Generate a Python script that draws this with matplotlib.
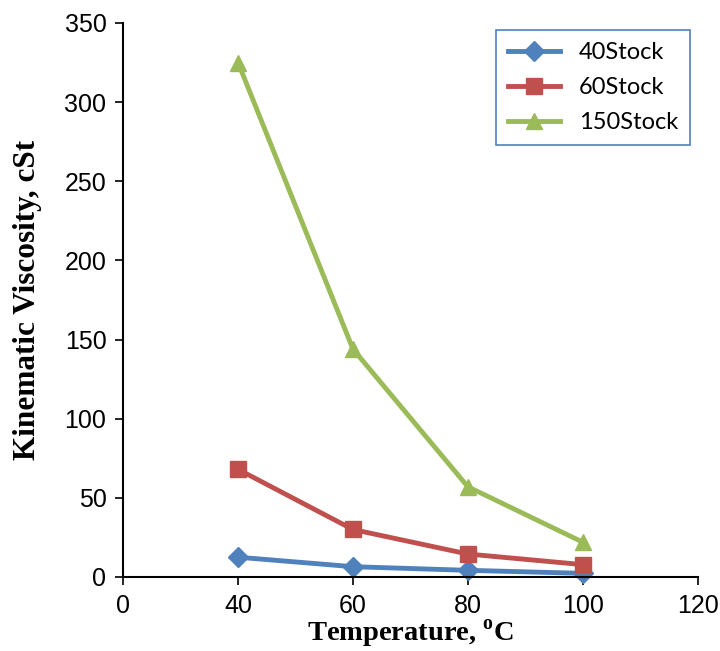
import matplotlib
matplotlib.use('Agg')
import matplotlib.pyplot as plt
import numpy as np

# category axis (Excel-style line chart, equally spaced labels)
tick_labels = ['0', '40', '60', '80', '100', '120']
temps = ['40', '60', '80', '100']

stock40 = [12.5, 6.5, 4.2, 2.3]
stock60 = [68, 30, 14.5, 7.8]
stock150 = [325, 144, 57, 22]

series = [
    ('40Stock', stock40, '#4F81BD', 'D', 10),
    ('60Stock', stock60, '#C0504D', 's', 11),
    ('150Stock', stock150, '#9BBB59', '^', 12),
]

fig = plt.figure(figsize=(7.2, 6.51), dpi=100)
ax = fig.add_axes([0.171, 0.1137, 0.798, 0.851])

pos = [tick_labels.index(t) for t in temps]
for name, vals, col, mk, ms in series:
    ax.plot(pos, vals, color=col, lw=3.5, marker=mk, ms=ms,
            markeredgecolor=col, label=name, clip_on=False)

ax.set_xlim(0, len(tick_labels) - 1)
ax.set_ylim(0, 350)
ax.set_xticks(range(len(tick_labels)))
ax.set_xticklabels(tick_labels)
ax.set_yticks(np.arange(0, 351, 50))

ax.tick_params(direction='out', length=6, width=1.2, colors='black',
               labelsize=18, labelfontfamily='Liberation Sans')
ax.tick_params(axis='x', pad=6)
ax.tick_params(axis='y', pad=6)

ax.spines['top'].set_visible(False)
ax.spines['right'].set_visible(False)
ax.spines['left'].set_linewidth(1.5)
ax.spines['bottom'].set_linewidth(1.5)

ax.set_xlabel('Temperature, $^{\\mathregular{o}}$C', fontfamily='Liberation Serif',
              fontweight='bold', fontsize=20.5, labelpad=0)
ax.set_ylabel('Kinematic Viscosity, cSt', fontfamily='Liberation Serif',
              fontweight='bold', fontsize=22.5, labelpad=16)

leg = ax.legend(loc='upper right', bbox_to_anchor=(0.986, 0.987),
                borderaxespad=0,
                prop={'family': 'Lato', 'size': 17}, handlelength=2.2,
                fancybox=False, framealpha=1, borderpad=0.5,
                labelspacing=0.6, handletextpad=0.8)
leg.get_frame().set_edgecolor('#4F81BD')
leg.get_frame().set_linewidth(1.2)

fig.savefig('out.png', dpi=100)
